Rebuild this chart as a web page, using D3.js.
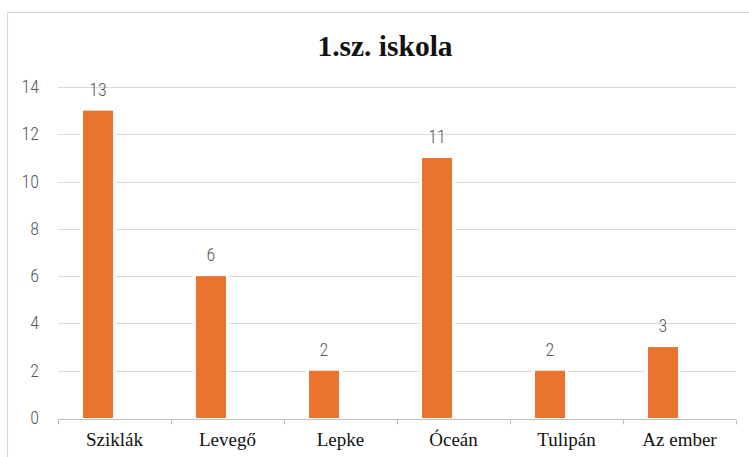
<!DOCTYPE html>
<html><head><meta charset="utf-8">
<script src="https://cdn.jsdelivr.net/npm/d3@7"></script>
<style>body{margin:0;background:#fff}svg{display:block}</style>
</head><body>
<script>
const categories = ["Sziklák","Levegő","Lepke","Óceán","Tulipán","Az ember"];
const values = [13,6,2,11,2,3];
const yTicks = [0,2,4,6,8,10,12,14];
const title = "1.sz. iskola";

const W = 749, H = 457;
const SERIF = "'Liberation Serif', Tinos, Times, monospace";
const NARROW = "'Roboto Condensed', 'DejaVu Sans Condensed', sans-serif";
const svg = d3.select("body").append("svg").attr("width",W).attr("height",H);

svg.append("rect").attr("x",7.5).attr("y",12.5).attr("width",W).attr("height",H)
  .attr("fill","#fff").attr("stroke","#d9d9d9").attr("stroke-width",1.2);

const x = d3.scaleBand().domain(categories).range([58,736]).padding(0);
const y = d3.scaleLinear().domain([0,14]).range([418,87]);

svg.append("text").attr("x",385).attr("y",56).attr("text-anchor","middle")
  .style("font-family",SERIF).style("font-weight","bold").style("font-size","29.5px")
  .style("fill","#111").text(title);

// gridlines
svg.append("g").selectAll("line").data(yTicks.filter(d=>d>0)).join("line")
  .attr("x1",58).attr("x2",736).attr("y1",d=>Math.round(y(d))+0.5).attr("y2",d=>Math.round(y(d))+0.5)
  .attr("stroke","#d9d9d9").attr("stroke-width",1);

// y labels
svg.append("g").selectAll("text").data(yTicks).join("text")
  .attr("x",39).attr("y",d=>y(d)+6).attr("text-anchor","end")
  .style("font-family",NARROW).style("font-weight","300").style("font-size","18px")
  .style("fill","#595959").text(d=>d);

// x axis
const xAxis = d3.axisBottom(x).tickSize(5).tickFormat("");
const gx = svg.append("g").attr("transform","translate(0,419.5)").call(xAxis);
gx.select(".domain").attr("stroke","#bfbfbf").attr("d","M58.5,0H736");
gx.selectAll(".tick").remove();
const bounds = categories.map(c=>x(c)).concat([x.range()[1]]);
gx.selectAll("line.b").data(bounds).join("line").attr("class","b")
  .attr("x1",d=>Math.round(d)+0.5).attr("x2",d=>Math.round(d)+0.5).attr("y1",0).attr("y2",5)
  .attr("stroke","#bfbfbf");

svg.append("g").selectAll("text").data(categories).join("text")
  .attr("x",d=>x(d)+x.bandwidth()/2).attr("y",446).attr("text-anchor","middle")
  .style("font-family",SERIF).style("font-size","19px").style("fill","#111").text(d=>d);

// bars
const bw = 30, off = 25;
const bars = svg.append("g");
bars.selectAll("rect.bg").data(values).join("rect").attr("class","bg")
  .attr("x",(d,i)=>x(categories[i])+off-3).attr("y",d=>y(d)-1)
  .attr("width",bw+6).attr("height",d=>y(0)-y(d)+1).attr("fill","#fff");
bars.selectAll("rect.bar").data(values).join("rect").attr("class","bar")
  .attr("x",(d,i)=>x(categories[i])+off).attr("y",d=>y(d))
  .attr("width",bw).attr("height",d=>y(0)-y(d)).attr("fill","#E9732F");

svg.append("g").selectAll("text").data(values).join("text")
  .attr("x",(d,i)=>x(categories[i])+off+bw/2).attr("y",d=>y(d)-15)
  .attr("text-anchor","middle")
  .style("font-family",NARROW).style("font-weight","300").style("font-size","18px")
  .style("fill","#595959").text(d=>d);
</script>
</body></html>
